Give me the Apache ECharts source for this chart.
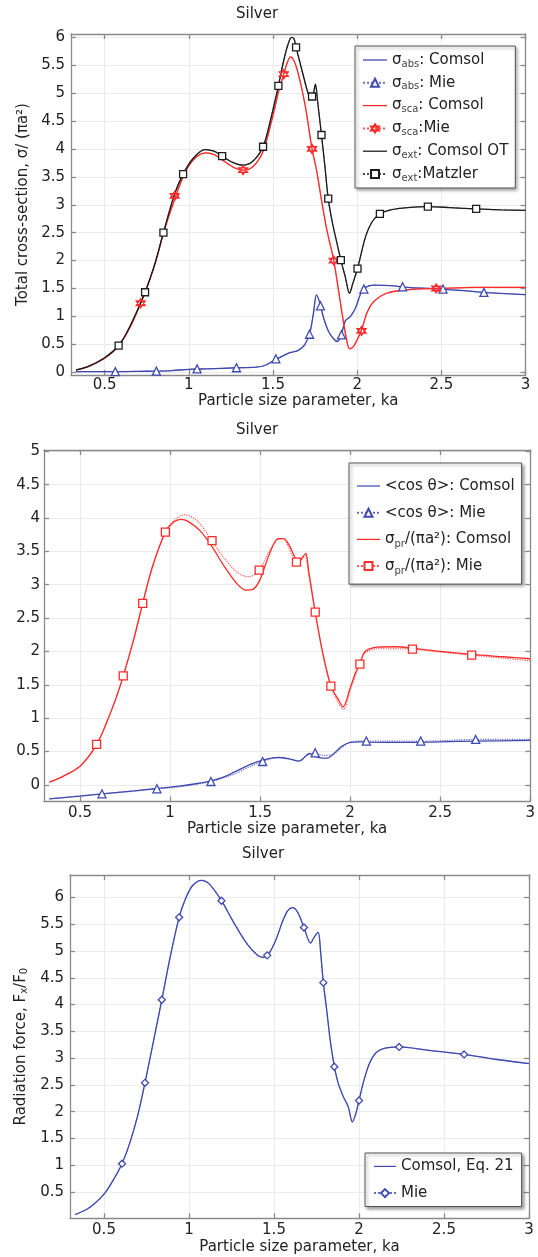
<!DOCTYPE html>
<html>
<head>
<meta charset="utf-8">
<script src="https://cdn.jsdelivr.net/npm/echarts@6/dist/echarts.min.js"></script>
<style>
  html, body { margin: 0; padding: 0; background: #fff; }
  #chart { width: 538px; height: 1257px; }
</style>
</head>
<body>
<div id="chart"></div>
<script>
// tick labels
const xTicks = [0.5, 1, 1.5, 2, 2.5, 3];
const yTicksCross = [0, 0.5, 1, 1.5, 2, 2.5, 3, 3.5, 4, 4.5, 5, 5.5, 6];
const yTicksPr = [0, 0.5, 1, 1.5, 2, 2.5, 3, 3.5, 4, 4.5, 5];
const yTicksForce = [0.5, 1, 1.5, 2, 2.5, 3, 3.5, 4, 4.5, 5, 5.5, 6];

// --- panel 1: cross sections [ka, value]
const absComsol = [[0.33,0.01],[0.5,0.01],[0.7,0.015],[0.8,0.02],[0.9,0.03],[1.0,0.05],[1.1,0.06],[1.2,0.07],
  [1.3,0.08],[1.4,0.09],[1.45,0.12],[1.5,0.2],[1.55,0.28],[1.6,0.35],[1.65,0.39],[1.69,0.5],[1.72,0.72],
  [1.74,1.05],[1.758,1.385],[1.775,1.27],[1.8,0.98],[1.83,0.73],[1.86,0.6],[1.881,0.55],[1.9,0.62],[1.93,0.92],
  [1.96,1.0],[1.99,1.15],[2.02,1.4],[2.05,1.52],[2.1,1.56],[2.2,1.55],[2.3,1.52],[2.5,1.49],[2.75,1.43],[3.0,1.39]];
const absMieMarks = [[0.563,0.01],[0.807,0.02],[1.049,0.06],[1.283,0.08],[1.517,0.24],[1.717,0.68],
  [1.782,1.19],[1.907,0.67],[2.04,1.49],[2.27,1.53],[2.51,1.49],[2.753,1.43]];

const scaComsol = [[0.33,0.04],[0.4,0.1],[0.5,0.25],[0.58,0.46],[0.65,0.8],[0.714,1.236],[0.74,1.43],[0.8,1.95],
  [0.85,2.5],[0.916,3.1],[0.966,3.5],[1.0,3.7],[1.05,3.87],[1.1,3.93],[1.15,3.9],[1.2,3.8],[1.26,3.68],
  [1.322,3.62],[1.38,3.68],[1.44,3.95],[1.5,4.6],[1.535,5.05],[1.564,5.34],[1.585,5.55],[1.604,5.65],
  [1.625,5.58],[1.65,5.35],[1.69,4.8],[1.732,4.0],[1.76,3.6],[1.79,3.05],[1.82,2.55],[1.861,2.0],[1.89,1.45],
  [1.91,1.06],[1.935,0.62],[1.954,0.42],[1.975,0.45],[2.0,0.58],[2.026,0.76],[2.06,1.08],[2.1,1.27],
  [2.17,1.41],[2.25,1.46],[2.35,1.49],[2.47,1.5],[2.7,1.52],[3.0,1.52]];
const scaMieMarks = [[0.714,1.236],[0.916,3.158],[1.322,3.62],[1.564,5.34],[1.732,4.0],[1.861,2.0],
  [2.026,0.74],[2.47,1.5]];

const extComsol = [[0.33,0.04],[0.4,0.1],[0.5,0.26],[0.583,0.478],[0.65,0.82],[0.74,1.433],[0.8,1.96],
  [0.849,2.5],[0.916,3.2],[0.966,3.55],[1.025,3.83],[1.095,3.99],[1.15,3.96],[1.198,3.87],[1.26,3.76],
  [1.322,3.71],[1.38,3.78],[1.441,4.04],[1.49,4.58],[1.532,5.13],[1.564,5.59],[1.59,5.88],[1.61,6.0],
  [1.625,5.97],[1.637,5.82],[1.66,5.55],[1.683,5.28],[1.705,5.03],[1.723,4.91],[1.74,5.0],[1.752,5.16],
  [1.765,4.85],[1.788,4.25],[1.808,3.7],[1.828,3.11],[1.85,2.72],[1.871,2.43],[1.903,2.01],[1.93,1.7],
  [1.954,1.415],[1.975,1.6],[2.002,1.857],[2.05,2.43],[2.09,2.7],[2.135,2.836],[2.2,2.91],[2.3,2.95],
  [2.42,2.967],[2.55,2.95],[2.707,2.925],[2.85,2.91],[3.0,2.9]];
const extMieMarks = [[0.583,0.478],[0.74,1.433],[0.849,2.5],[0.966,3.55],[1.198,3.87],[1.441,4.04],
  [1.532,5.13],[1.637,5.82],[1.732,4.94],[1.788,4.25],[1.828,3.11],[1.903,2.01],[2.002,1.857],
  [2.135,2.836],[2.42,2.967],[2.707,2.925]];

// --- panel 2: asymmetry and pressure cross section
const cosComsol = [[0.33,-0.21],[0.5,-0.17],[0.622,-0.135],[0.8,-0.09],[0.927,-0.055],[1.05,-0.02],
  [1.15,0.02],[1.227,0.06],[1.3,0.12],[1.356,0.19],[1.45,0.31],[1.514,0.37],[1.57,0.405],[1.606,0.41],
  [1.66,0.39],[1.717,0.355],[1.75,0.42],[1.775,0.47],[1.8,0.43],[1.846,0.4],[1.874,0.4],[1.91,0.47],
  [1.95,0.57],[2.0,0.635],[2.05,0.645],[2.09,0.64],[2.3,0.635],[2.5,0.645],[2.7,0.655],[3.0,0.665]];
const cosMie = [[0.33,-0.21],[0.8,-0.095],[1.05,-0.03],[1.356,0.16],[1.45,0.28],[1.6,0.41],[1.66,0.39],
  [1.717,0.36],[1.76,0.45],[1.85,0.44],[1.9,0.45],[1.95,0.55],[2.0,0.64],[2.2,0.655],[2.5,0.66],[3.0,0.68]];
const cosMieMarks = [[0.622,-0.135],[0.927,-0.06],[1.227,0.05],[1.514,0.35],[1.806,0.48],[2.09,0.656],
  [2.392,0.656],[2.697,0.68]];

const prComsol = [[0.33,0.04],[0.4,0.12],[0.5,0.28],[0.592,0.6],[0.65,0.95],[0.7,1.3],[0.74,1.63],[0.8,2.2],
  [0.848,2.72],[0.9,3.25],[0.974,3.79],[1.02,3.94],[1.06,3.98],[1.1,3.95],[1.17,3.8],[1.233,3.57],[1.3,3.28],
  [1.37,3.02],[1.42,2.92],[1.46,2.93],[1.5,3.08],[1.55,3.45],[1.6,3.69],[1.63,3.69],[1.66,3.6],[1.7,3.38],
  [1.72,3.36],[1.74,3.43],[1.754,3.47],[1.77,3.2],[1.806,2.59],[1.846,2.0],[1.893,1.48],[1.93,1.3],
  [1.961,1.17],[2.0,1.45],[2.03,1.68],[2.054,1.81],[2.075,1.97],[2.1,2.03],[2.15,2.065],[2.25,2.07],
  [2.346,2.05],[2.5,2.0],[2.675,1.955],[2.85,1.92],[3.0,1.89]];
const prMie = [[0.33,0.04],[0.4,0.12],[0.5,0.28],[0.65,0.95],[0.7,1.3],[0.8,2.2],[0.9,3.25],[1.02,3.96],
  [1.079,4.05],[1.15,3.96],[1.3,3.4],[1.38,3.17],[1.44,3.12],[1.55,3.5],[1.6,3.68],[1.63,3.69],[1.66,3.55],
  [1.72,3.36],[1.75,3.43],[1.77,3.15],[1.846,2.0],[1.93,1.25],[1.965,1.13],[2.0,1.42],[2.08,1.97],
  [2.15,2.04],[2.5,1.99],[3.0,1.86]];
const prMieMarks = [[0.592,0.607],[0.74,1.634],[0.848,2.72],[0.974,3.79],[1.233,3.66],[1.495,3.22],
  [1.702,3.34],[1.806,2.59],[1.893,1.48],[2.054,1.81],[2.346,2.035],[2.675,1.945]];

// --- panel 3: radiation force
const forceComsol = [[0.33,0.08],[0.4,0.18],[0.45,0.3],[0.5,0.46],[0.55,0.7],[0.606,1.03],[0.65,1.4],
  [0.7,1.95],[0.741,2.54],[0.79,3.3],[0.84,4.09],[0.89,4.9],[0.942,5.63],[0.98,5.98],[1.02,6.22],
  [1.073,6.32],[1.12,6.25],[1.191,5.94],[1.26,5.55],[1.338,5.15],[1.4,4.93],[1.436,4.88],[1.47,4.95],
  [1.51,5.2],[1.55,5.55],[1.58,5.75],[1.609,5.81],[1.64,5.72],[1.676,5.44],[1.715,5.15],[1.74,5.28],
  [1.76,5.35],[1.775,4.95],[1.79,4.41],[1.81,3.9],[1.83,3.35],[1.855,2.84],[1.878,2.53],[1.908,2.28],
  [1.937,2.09],[1.961,1.81],[1.98,1.95],[2.0,2.21],[2.03,2.6],[2.065,2.93],[2.1,3.1],[2.143,3.18],
  [2.236,3.21],[2.4,3.15],[2.618,3.07],[2.8,2.98],[3.0,2.9]];
const forceMieMarks = [[0.606,1.03],[0.741,2.54],[0.84,4.09],[0.942,5.63],[1.191,5.94],[1.46,4.92],
  [1.676,5.44],[1.79,4.41],[1.855,2.84],[2.0,2.21],[2.236,3.21],[2.618,3.07]];

const BLUE = '#3f4ab0', RED = '#ff2b2b', BLACK = '#1c1c1c';
const FONT = 'DejaVu Sans';
const TXT = '#222';
const STAR = 'path://M0,-10L8.66,5L-8.66,5Z M0,10L8.66,-5L-8.66,-5Z';
const LINE_ICON = 'path://M0,0H30V1.6H0Z';

// merge marker points into a curve; only the marker points get a symbol
function withMarks(curve, marks) {
  const pts = curve
    .filter(p => !marks.some(m => Math.abs(m[0] - p[0]) < 0.004))
    .map(p => ({ value: p, symbol: 'none' }));
  marks.forEach(m => pts.push({ value: m }));
  return pts.sort((a, b) => a.value[0] - b.value[0]);
}

function solid(name, panel, color, data) {
  return {
    name, type: 'line', xAxisIndex: panel * 2, yAxisIndex: panel * 2,
    data, symbol: 'none', smooth: 0.3,
    lineStyle: { color, width: 1.3 }, itemStyle: { color },
    emphasis: { disabled: true }
  };
}

function dotted(name, panel, color, data, symbol, size) {
  return {
    name, type: 'line', xAxisIndex: panel * 2, yAxisIndex: panel * 2,
    data, symbol, symbolSize: size, showAllSymbol: true, smooth: 0.3,
    lineStyle: { color, width: 1.2, type: 'dotted', opacity: 0.8 },
    itemStyle: { color: '#fff', borderColor: color, borderWidth: 1.3 },
    emphasis: { disabled: true }
  };
}

const tickLine = { color: '#8a8a8a', width: 1.3 };

function panelAxes(gi, yMin, yMax, yTicks, opts) {
  const base = {
    type: 'value', gridIndex: gi,
    axisLine: { show: true, onZero: false, lineStyle: tickLine },
    splitLine: { show: false }
  };
  const xBottom = Object.assign({}, base, {
    position: 'bottom', min: 0.3, max: 3,
    name: 'Particle size parameter, ka', nameLocation: 'middle', nameGap: opts.xNameGap,
    nameTextStyle: { fontFamily: FONT, fontSize: 15, color: TXT },
    axisTick: { inside: true, length: 5, customValues: xTicks, lineStyle: tickLine },
    axisLabel: { customValues: xTicks, fontFamily: FONT, fontSize: 15, color: TXT, margin: opts.xMargin },
    splitLine: { show: true, lineStyle: { color: '#ebebeb', width: 1 } }
  });
  const xTop = Object.assign({}, base, {
    position: 'top', min: 0.3, max: 3,
    axisTick: { inside: true, length: 5, customValues: xTicks, lineStyle: tickLine },
    axisLabel: { show: false }
  });
  const yLeft = Object.assign({}, base, {
    position: 'left', min: yMin, max: yMax,
    name: opts.yName || '', nameLocation: 'middle', nameGap: opts.yNameGap || 30,
    nameTextStyle: {
      fontFamily: FONT, fontSize: 15, color: TXT,
      rich: { sub: { fontFamily: FONT, fontSize: 10, lineHeight: 10, verticalAlign: 'bottom', color: TXT } }
    },
    axisTick: { inside: true, length: 5, customValues: yTicks, lineStyle: tickLine },
    axisLabel: { customValues: yTicks, fontFamily: FONT, fontSize: 15, color: TXT, margin: opts.yMargin },
    splitLine: { show: true, lineStyle: { color: '#ebebeb', width: 1 } }
  });
  const yRight = Object.assign({}, base, {
    position: 'right', min: yMin, max: yMax,
    axisTick: { inside: true, length: 5, customValues: yTicks, lineStyle: tickLine },
    axisLabel: { show: false }
  });
  return { x: [xBottom, xTop], y: [yLeft, yRight] };
}

const a1 = panelAxes(0, -0.05, 6.06, yTicksCross,
  { xNameGap: 19, xMargin: 3, yMargin: 6, yName: 'Total cross-section, σ/ (πa²)', yNameGap: 38 });
const a2 = panelAxes(1, -0.25, 5.02, yTicksPr, { xNameGap: 19, xMargin: 4, yMargin: 4 });
const a3 = panelAxes(2, 0.01, 6.42, yTicksForce,
  { xNameGap: 21, xMargin: 4, yMargin: 6, yName: 'Radiation force, F{sub|x}/F{sub|0}', yNameGap: 41 });

const legendText = {
  abs_c: 'σ{sub|abs}: Comsol', abs_m: 'σ{sub|abs}: Mie',
  sca_c: 'σ{sub|sca}: Comsol', sca_m: 'σ{sub|sca}:Mie',
  ext_c: 'σ{sub|ext}: Comsol OT', ext_m: 'σ{sub|ext}:Matzler',
  cos_c: '<cos θ>: Comsol', cos_m: '<cos θ>: Mie',
  pr_c: 'σ{sub|pr}/(πa²): Comsol', pr_m: 'σ{sub|pr}/(πa²): Mie',
  f_c: 'Comsol, Eq. 21', f_m: 'Mie'
};

function legendBox(names, left, top, padding, lh, gap, iw) {
  return {
    left, top, padding, orient: 'vertical', itemGap: gap, itemWidth: iw, itemHeight: 10,
    selectedMode: false,
    data: names.map(n => n.endsWith('_c') ? { name: n, icon: LINE_ICON } : { name: n }),
    formatter: n => legendText[n],
    backgroundColor: '#fff', borderColor: '#555', borderWidth: 1, borderRadius: 0,
    shadowColor: 'rgba(0,0,0,0.35)', shadowBlur: 3, shadowOffsetX: 2, shadowOffsetY: 2,
    textStyle: {
      fontFamily: FONT, fontSize: 15, color: TXT, lineHeight: lh,
      rich: { sub: { fontFamily: FONT, fontSize: 10, lineHeight: 10, verticalAlign: 'bottom', color: '#444' } }
    }
  };
}

const chart = echarts.init(document.getElementById('chart'), null, { renderer: 'canvas' });
chart.setOption({
  animation: false,
  backgroundColor: '#fff',
  title: [
    { text: 'Silver', left: 236, top: 7, padding: 0, textStyle: { fontFamily: FONT, fontSize: 15, fontWeight: 'normal', color: TXT } },
    { text: 'Silver', left: 236, top: 423, padding: 0, textStyle: { fontFamily: FONT, fontSize: 15, fontWeight: 'normal', color: TXT } },
    { text: 'Silver', left: 242, top: 847, padding: 0, textStyle: { fontFamily: FONT, fontSize: 15, fontWeight: 'normal', color: TXT } }
  ],
  grid: [
    { left: 71, right: 12.5, top: 34, bottom: 882 },
    { left: 44, right: 6.5, top: 450, bottom: 455.5 },
    { left: 70, right: 9, top: 875, bottom: 38.7 }
  ],
  xAxis: [].concat(a1.x, a2.x, a3.x),
  yAxis: [].concat(a1.y, a2.y, a3.y),
  legend: [
    legendBox(['abs_c', 'abs_m', 'sca_c', 'sca_m', 'ext_c', 'ext_m'], 355, 46, [5, 7, 5, 7], 18, 4.8, 24),
    legendBox(['cos_c', 'cos_m', 'pr_c', 'pr_m'], 349, 463, [13, 7, 8, 7], 20, 6.7, 23),
    legendBox(['f_c', 'f_m'], 365, 1153, [3.4, 8, 3.4, 8], 20, 6.7, 22)
  ],
  series: [
    solid('abs_c', 0, BLUE, absComsol),
    dotted('abs_m', 0, BLUE, withMarks(absComsol, absMieMarks), 'triangle', 8),
    solid('sca_c', 0, RED, scaComsol),
    dotted('sca_m', 0, RED, withMarks(scaComsol, scaMieMarks), STAR, 9),
    solid('ext_c', 0, BLACK, extComsol),
    dotted('ext_m', 0, BLACK, withMarks(extComsol, extMieMarks), 'rect', 7),

    solid('cos_c', 1, BLUE, cosComsol),
    dotted('cos_m', 1, BLUE, withMarks(cosMie, cosMieMarks), 'triangle', 8),
    solid('pr_c', 1, RED, prComsol),
    dotted('pr_m', 1, RED, withMarks(prMie, prMieMarks), 'rect', 8),

    solid('f_c', 2, BLUE, forceComsol),
    dotted('f_m', 2, BLUE, withMarks(forceComsol, forceMieMarks), 'diamond', 7)
  ]
});
</script>
</body>
</html>
